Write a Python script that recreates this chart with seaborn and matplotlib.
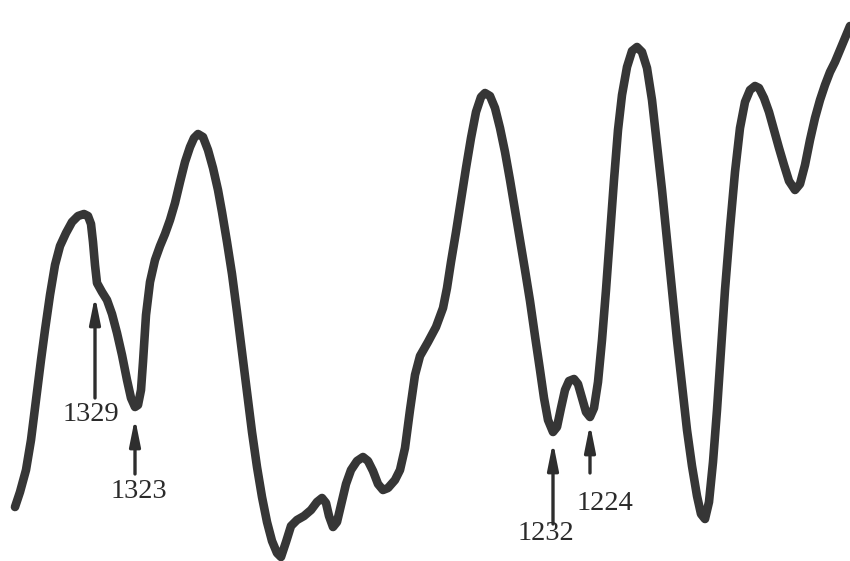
import numpy as np
import pandas as pd
import matplotlib
matplotlib.use("Agg")
import matplotlib.pyplot as plt
import seaborn as sns

# trace (chart position, pen deflection)
pos = [15, 20, 26, 31, 36, 41, 45, 50, 55, 60, 66, 72, 78, 84, 88, 91, 93, 95, 97,
       102, 107, 112, 117, 122, 127, 131, 135, 138, 141, 143, 146, 150, 155, 160,
       165, 170, 175, 180, 185, 190, 194, 198, 203, 208, 213, 218, 222, 227, 232,
       237, 242, 247, 252, 257, 262, 267, 272, 277, 281, 286, 291, 297, 304, 311,
       317, 322, 326, 329, 333, 337, 341, 346, 351, 357, 363, 368, 373, 378, 383,
       388, 395, 400, 405, 410, 415, 420, 428, 436, 443, 447, 451, 456, 461, 466,
       471, 476, 481, 485, 490, 495, 500, 505, 510, 515, 520, 525, 530, 535, 540,
       544, 548, 553, 557, 561, 565, 569, 574, 578, 582, 586, 590, 594, 598, 602,
       606, 610, 614, 618, 622, 627, 632, 637, 642, 647, 652, 657, 662, 667, 672,
       677, 682, 687, 692, 697, 701, 705, 709, 713, 717, 721, 725, 730, 735, 740,
       745, 750, 755, 759, 764, 769, 774, 779, 784, 789, 795, 800, 805, 810, 815,
       820, 825, 830, 835, 840, 845, 850]
deflection = [507, 492, 470, 440, 400, 360, 330, 295, 265, 246, 233, 222, 216, 214,
              216, 224, 242, 265, 283, 292, 300, 314, 333, 355, 380, 398, 407, 405,
              390, 362, 315, 282, 260, 246, 234, 220, 203, 182, 162, 147, 138, 134,
              137, 150, 168, 190, 212, 242, 274, 312, 352, 392, 432, 467, 497, 522,
              541, 553, 557, 542, 526, 520, 516, 510, 502, 498, 503, 516, 527, 522,
              505, 484, 470, 461, 457, 461, 471, 484, 490, 488, 480, 470, 448, 410,
              375, 356, 342, 327, 308, 288, 262, 232, 200, 168, 138, 112, 97, 93,
              96, 108, 128, 152, 180, 210, 240, 270, 301, 336, 370, 398, 420, 432,
              427, 408, 390, 381, 379, 384, 398, 412, 417, 408, 382, 340, 290, 235,
              180, 130, 95, 67, 51, 47, 52, 68, 100, 145, 190, 240, 290, 340, 385,
              430, 466, 496, 514, 519, 502, 462, 410, 350, 290, 228, 172, 128, 102,
              90, 86, 88, 98, 112, 130, 148, 165, 181, 190, 184, 165, 140, 118, 100,
              85, 72, 62, 50, 38, 26]

# band markers: label, arrow tip, arrow tail, label centre
band_labels = ["1329", "1323", "1232", "1224"]
tip_x = [95, 135, 553, 590]
tip_y = [296, 418, 442, 424]
tail_y = [398, 474, 524, 473]
label_x = [91, 139, 546, 605]
label_y = [414, 491, 534, 503]

trace = pd.DataFrame({"pos": pos, "deflection": deflection})

fig = plt.figure(figsize=(8.5, 5.61), dpi=100)
ax = fig.add_axes([0, 0, 1, 1])
sns.lineplot(data=trace, x="pos", y="deflection", ax=ax, color="#363636",
             linewidth=6.2, solid_joinstyle="round", solid_capstyle="round")

for lab, tx, ty, sy, lx, ly in zip(band_labels, tip_x, tip_y, tail_y, label_x, label_y):
    ax.annotate("", xy=(tx, ty), xytext=(tx, sy),
                arrowprops=dict(arrowstyle="-|>,head_length=1.6,head_width=0.32",
                                mutation_scale=10, color="#2e2e2e", lw=2.4,
                                shrinkA=0, shrinkB=0))
    ax.text(lx, ly, lab, ha="center", va="center", fontsize=20.5,
            family="Liberation Serif", color="#2a2a2a")

ax.set_xlim(0, 850)
ax.set_ylim(561, 0)
ax.axis("off")
fig.savefig("out.png", dpi=100, facecolor="white")
